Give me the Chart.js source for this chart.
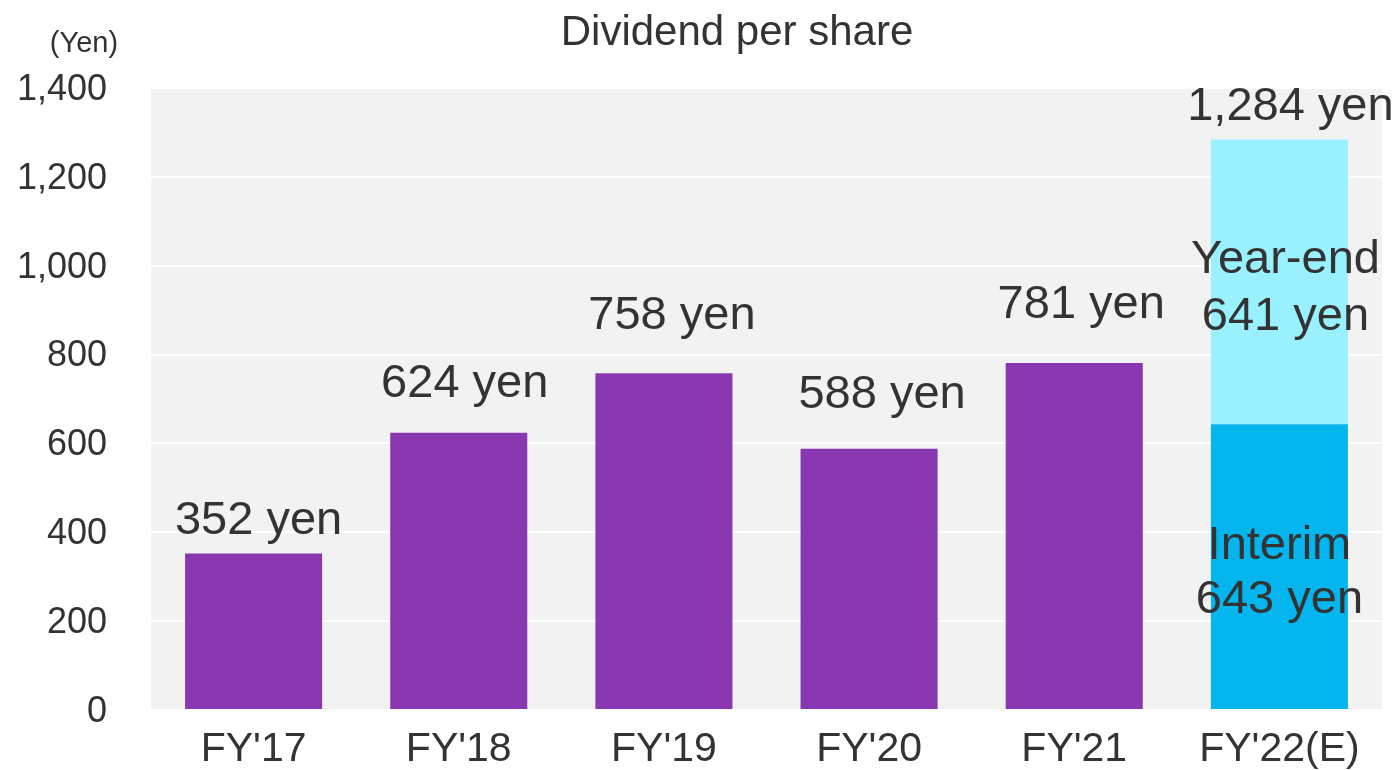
<!DOCTYPE html>
<html>
<head>
<meta charset="utf-8">
<script src="https://cdn.jsdelivr.net/npm/chart.js@4"></script>
<style>
  html, body { margin: 0; padding: 0; background: #ffffff; }
  #wrap { width: 1398px; height: 770px; position: relative; }
</style>
</head>
<body>
<div id="wrap"><canvas id="c" width="1398" height="770"></canvas></div>
<script>
// ---- data ----
const categories = ["FY'17", "FY'18", "FY'19", "FY'20", "FY'21", "FY'22(E)"];
const annualDividend = [352, 624, 758, 588, 781, null];
const interimDividend = [null, null, null, null, null, 643];
const yearEndDividend = [null, null, null, null, null, 641];
const totalLabels = ["352 yen", "624 yen", "758 yen", "588 yen", "781 yen", "1,284 yen"];
const interimLabel = ["Interim", "643 yen"];
const yearEndLabel = ["Year-end", "641 yen"];
const chartTitle = "Dividend per share";
const unitLabel = "(Yen)";

// ---- style ----
const FONT = "'Liberation Sans', Arial, sans-serif";
const TEXT = "#333333";
const labelGap = [20, 36, 44, 41, 45, 20];   // px between bar top and label baseline
const labelShiftX = [5, 6, 8, 13, 7, 11];    // px horizontal nudge of total labels

const overlay = {
  id: 'overlay',
  beforeDraw(chart) {
    const { ctx, chartArea: a } = chart;
    ctx.save();
    ctx.fillStyle = '#f2f2f2';
    ctx.fillRect(a.left, a.top, a.right - a.left, a.bottom - a.top);
    ctx.restore();
  },
  afterDraw(chart) {
    const { ctx } = chart;
    const x = chart.scales.x, y = chart.scales.y;
    ctx.save();
    ctx.fillStyle = TEXT;
    ctx.textAlign = 'center';
    ctx.textBaseline = 'alphabetic';
    // title
    ctx.font = `42px ${FONT}`;
    ctx.fillText(chartTitle, 737, 45);
    // unit
    ctx.font = `29px ${FONT}`;
    ctx.fillText(unitLabel, 84, 52);
    // totals
    ctx.font = `47px ${FONT}`;
    categories.forEach((c, i) => {
      const total = (annualDividend[i] || 0) + (interimDividend[i] || 0) + (yearEndDividend[i] || 0);
      const px = x.getPixelForValue(i);
      const py = y.getPixelForValue(total);
      ctx.fillText(totalLabels[i], px + labelShiftX[i], py - labelGap[i]);
    });
    // stack segment labels
    const i = 5;
    const px = x.getPixelForValue(i);
    const intMid = y.getPixelForValue(interimDividend[i] / 2);
    ctx.fillText(interimLabel[0], px, intMid - 8);
    ctx.fillText(interimLabel[1], px, intMid + 46);
    const yeMid = y.getPixelForValue(interimDividend[i] + yearEndDividend[i] / 2);
    ctx.fillText(yearEndLabel[0], px + 6, yeMid - 9);
    ctx.fillText(yearEndLabel[1], px + 6, yeMid + 48);
    ctx.restore();
  }
};

new Chart(document.getElementById('c'), {
  type: 'bar',
  data: {
    labels: categories,
    datasets: [
      { label: 'Annual', data: annualDividend, backgroundColor: '#8A38B2' },
      { label: 'Interim', data: interimDividend, backgroundColor: '#05B5EE' },
      { label: 'Year-end', data: yearEndDividend, backgroundColor: '#99F0FE' }
    ]
  },
  options: {
    responsive: false,
    animation: false,
    devicePixelRatio: 1,
    layout: { padding: { top: 88, right: 16, bottom: 0, left: 0 } },
    datasets: { bar: { categoryPercentage: 1, barPercentage: 0.668, borderWidth: 0 } },
    plugins: { legend: { display: false }, tooltip: { enabled: false }, title: { display: false } },
    scales: {
      x: {
        stacked: true,
        grid: { display: false, drawTicks: false },
        border: { display: false },
        ticks: { color: TEXT, font: { family: FONT, size: 41 }, padding: 15, maxRotation: 0, autoSkip: false },
        afterFit(s) { s.height = 60; s.paddingLeft = 0; s.paddingRight = 0; }
      },
      y: {
        stacked: true,
        min: 0, max: 1400,
        grid: { color: '#ffffff', lineWidth: 2, drawTicks: false },
        border: { display: false },
        ticks: {
          stepSize: 200, color: TEXT, font: { family: FONT, size: 36 }, padding: 44, labelOffset: 2,
          callback: v => v.toLocaleString('en-US')
        },
        afterFit(s) { s.width = 151; s.paddingTop = 0; s.paddingBottom = 0; }
      }
    }
  },
  plugins: [overlay]
});
</script>
</body>
</html>
